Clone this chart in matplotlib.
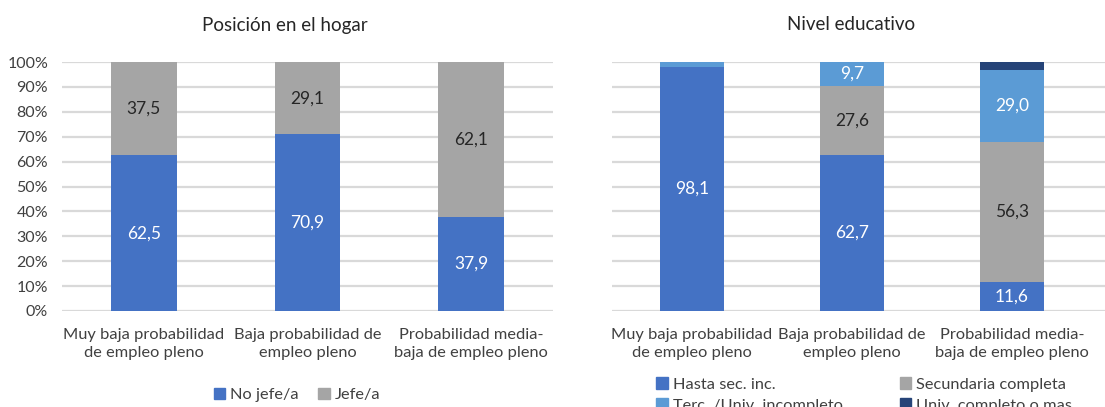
import numpy as np
import matplotlib.pyplot as plt
from matplotlib.patches import Patch

plt.rcParams['font.family'] = ['Lato', 'DejaVu Sans']

categorias = ['Muy baja probabilidad\nde empleo pleno',
              'Baja probabilidad de\nempleo pleno',
              'Probabilidad media-\nbaja de empleo pleno']

# Posicion en el hogar
no_jefe = [62.5, 70.9, 37.9]
jefe = [37.5, 29.1, 62.1]

# Nivel educativo
hasta_sec = [98.1, 62.7, 11.6]
sec_completa = [0.0, 27.6, 56.3]
terc_incompleto = [1.9, 9.7, 29.0]
univ_completo = [0.0, 0.0, 3.1]

azul = '#4472C4'
gris = '#A5A5A5'
celeste = '#5B9BD5'
azul_osc = '#264478'
grid_col = '#D9D9D9'

fig = plt.figure(figsize=(11.05, 4.07), dpi=100)
ax1 = fig.add_axes([62/1105, 1-311/407, (553-62)/1105, 249/407])
ax2 = fig.add_axes([612/1105, 1-311/407, (1105-612)/1105, 249/407])

x = np.arange(3)
w = 0.40


def estilo(ax):
    ax.set_ylim(0, 100)
    ax.set_yticks(np.arange(0, 101, 10))
    ax.yaxis.grid(True, color=grid_col, linewidth=1.6)
    ax.set_axisbelow(True)
    for s in ax.spines.values():
        s.set_visible(False)
    ax.tick_params(length=0, labelsize=11.5, colors='#404040')
    ax.tick_params(axis='y', pad=10)
    ax.set_xticks(x)
    ax.set_xticklabels(categorias, fontsize=11.8, color='#404040', linespacing=1.4)
    ax.tick_params(axis='x', pad=12)


def etiquetas(ax, bars, vals, color, minimo=5):
    for b, v in zip(bars, vals):
        if v >= minimo:
            ax.text(b.get_x() + b.get_width()/2, b.get_y() + v/2, f'{v:.1f}'.replace('.', ','),
                    ha='center', va='center', fontsize=12.5, color=color)


# panel izquierdo
b1 = ax1.bar(x, no_jefe, w, color=azul, label='No jefe/a')
b2 = ax1.bar(x, jefe, w, bottom=no_jefe, color=gris, label='Jefe/a')
etiquetas(ax1, b1, no_jefe, 'white')
etiquetas(ax1, b2, jefe, '#262626')
estilo(ax1)
ax1.set_xlim(-0.5, 2.5)
ax1.set_yticklabels([f'{v}%' for v in range(0, 101, 10)])
fig.text(285/1105, 1-25/407, 'Posición en el hogar', fontsize=13.5, color='#262626',
         ha='center', va='center')
ax1.legend(handles=[Patch(color=azul, label='No jefe/a'), Patch(color=gris, label='Jefe/a')],
           loc='center', bbox_to_anchor=(297/1105, 1-395/407), bbox_transform=fig.transFigure,
           ncol=2, frameon=False, fontsize=11.8, handlelength=0.7, handleheight=0.7,
           handletextpad=0.3, columnspacing=1.2, labelcolor='#404040')

# panel derecho
fondo = np.zeros(3)
series = [(hasta_sec, azul, 'white', 'Hasta sec. inc.'),
          (sec_completa, gris, '#262626', 'Secundaria completa'),
          (terc_incompleto, celeste, 'white', 'Terc. /Univ. incompleto'),
          (univ_completo, azul_osc, 'white', 'Univ. completo o mas')]
for vals, col, tcol, lab in series:
    bb = ax2.bar(x, vals, w, bottom=fondo, color=col, label=lab)
    etiquetas(ax2, bb, vals, tcol)
    fondo = fondo + np.array(vals)
estilo(ax2)
ax2.set_xlim(-0.5, -0.5 + (1105-612)/160)
ax2.set_yticklabels([])
fig.text(851/1105, 1-25/407, 'Nivel educativo', fontsize=13.5, color='#262626',
         ha='center', va='center')
handles = [Patch(color=s[1], label=s[3]) for s in series]
handles = [handles[0], handles[2], handles[1], handles[3]]
leg2 = ax2.legend(handles=handles, loc='upper left', bbox_to_anchor=(648/1105, 1-369/407),
                  bbox_transform=fig.transFigure, ncol=2, frameon=False, fontsize=11.8,
                  handlelength=0.7, handleheight=0.7, handletextpad=0.3, columnspacing=3.5,
                  labelspacing=0.4, borderpad=0, labelcolor='#404040')

fig.savefig('out.png', dpi=100)
